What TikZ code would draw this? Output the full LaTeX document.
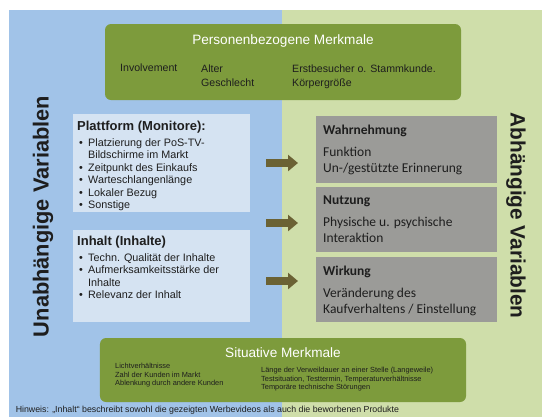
\documentclass[tikz,border=0pt]{standalone}
\usepackage{fontspec}
\setmainfont{Liberation Sans}
\newfontfamily\calfont{Carlito}
\usepackage{xcolor}
\usepackage{tikz}
\usetikzlibrary{arrows.meta}
\definecolor{bgblue}{RGB}{161,195,232}
\definecolor{bggreen}{RGB}{207,222,170}
\definecolor{boxgreen}{RGB}{125,155,60}
\definecolor{lightbox}{RGB}{213,227,242}
\definecolor{graybox}{RGB}{155,155,152}
\definecolor{arrbrown}{RGB}{107,98,52}
\definecolor{darktext}{RGB}{30,30,30}
\newcommand{\fs}[2]{\fontsize{#1}{#2}\selectfont}
\newcommand{\blt}{\hspace*{2bp}\makebox[9bp][l]{\textbullet}}
\newcommand{\ind}{\hspace*{11bp}}

\begin{document}
\begin{tikzpicture}[x=1bp,y=-1bp]
\tikzstyle{mgroup} = [fill=boxgreen,rounded corners=6bp,inner sep=0];
\tikzstyle{mtitle} = [font=\fs{13.6bp}{16bp},text=white,inner sep=0];
\tikzstyle{mtext} = [font=\fs{10.6bp}{14bp},text=darktext,align=left,inner sep=0];
\tikzstyle{msmall} = [font=\fs{7.4bp}{8.5bp},text=darktext,align=left,inner sep=0];
\tikzstyle{ibox} = [fill=lightbox,inner sep=0];
\tikzstyle{itext} = [font=\fs{10.8bp}{12.5bp},text=darktext,align=left,inner sep=0];
\tikzstyle{dbox} = [fill=graybox,inner sep=0];
\tikzstyle{dtext} = [font=\calfont\fs{13.5bp}{16bp},text=darktext,align=left,inner sep=0];
\tikzstyle{vlabel} = [font=\bfseries\fs{21.8bp}{24bp},text=darktext,inner sep=0];
\tikzstyle{bigarr} = [line width=8bp,arrbrown,-{Triangle[width=16bp,length=10bp]}];
\useasboundingbox (0,0) rectangle (542,417);
\fill [bgblue] (9,10) rectangle (282,417);
\fill [bggreen] (282,10) rectangle (542,417);
\node [mgroup,minimum width=356bp,minimum height=76bp] (v1) at (283,62) {};
\node [mtitle] (v1t) at (283,41) {Personenbezogene Merkmale};
\node [mtext,anchor=west] (v1a) at (120,68) {Involvement};
\node [mtext,anchor=north west] (v1b) at (201,64.2) {Alter\\Geschlecht};
\node [mtext,anchor=north west] (v1c) at (292,64.2) {Erstbesucher o. Stammkunde.\\Körpergröße};
\node [ibox,minimum width=177bp,minimum height=98bp] (v2) at (161.5,163) {};
\node [itext,anchor=north west] (v2t) at (77,121.3) {{\bfseries\fs{13bp}{15bp}Plattform (Monitore):}\\[2.8bp]
\blt Platzierung der PoS-TV-\\
\ind Bildschirme im Markt\\
\blt Zeitpunkt des Einkaufs\\
\blt Warteschlangenlänge\\
\blt Lokaler Bezug\\
\blt Sonstige};
\node [ibox,minimum width=177bp,minimum height=92bp] (v3) at (161.5,276) {};
\node [itext,anchor=north west] (v3t) at (77,236.3) {{\bfseries\fs{13bp}{15bp}Inhalt (Inhalte)}\\[2.8bp]
\blt Techn. Qualität der Inhalte\\
\blt Aufmerksamkeitsstärke der\\
\ind Inhalte\\
\blt Relevanz der Inhalt};
\node [dbox,minimum width=181bp,minimum height=67bp] (v4) at (406.5,149.5) {};
\node [dtext,anchor=north west] (v4t) at (323,124.4) {\textbf{Wahrnehmung}\\[6bp]Funktion\\Un-/gestützte Erinnerung};
\node [dbox,minimum width=181bp,minimum height=65bp] (v5) at (406.5,219.5) {};
\node [dtext,anchor=north west] (v5t) at (323,195.4) {\textbf{Nutzung}\\[6bp]Physische u. psychische\\Interaktion};
\node [dbox,minimum width=181bp,minimum height=65bp] (v6) at (406.5,289.5) {};
\node [dtext,anchor=north west] (v6t) at (323,265.4) {\textbf{Wirkung}\\[6bp]Veränderung des\\Kaufverhaltens / Einstellung};
\coordinate (a1) at (266,163);
\coordinate (b1) at (298,163);
\coordinate (a2) at (266,223);
\coordinate (b2) at (298,223);
\coordinate (a3) at (266,281);
\coordinate (b3) at (298,281);
\draw [bigarr] (a1) -- (b1);
\draw [bigarr] (a2) -- (b2);
\draw [bigarr] (a3) -- (b3);
\node [vlabel,rotate=90] (v7) at (43,216.5) {Unabhängige Variablen};
\node [vlabel,rotate=-90,font=\bfseries\fs{20.8bp}{24bp}] (v8) at (516,215.5) {Abhängige Variablen};
\node [mgroup,minimum width=366bp,minimum height=64bp] (v9) at (283,370) {};
\node [mtitle] (v9t) at (283,353) {Situative Merkmale};
\node [msmall,anchor=north west] (v9a) at (115,363.3) {Lichtverhältnisse\\Zahl der Kunden im Markt\\Ablenkung durch andere Kunden};
\node [msmall,anchor=north west] (v9b) at (261,367.3) {Länge der Verweildauer an einer Stelle (Langeweile)\\Testsituation, Testtermin, Temperaturverhältnisse\\Temporäre technische Störungen};
\node [font=\fs{8.8bp}{10bp},text=darktext,anchor=west,inner sep=0] (v10) at (15.6,410) {Hinweis: „Inhalt“ beschreibt sowohl die gezeigten Werbevideos als auch die beworbenen Produkte};
\end{tikzpicture}
\end{document}
